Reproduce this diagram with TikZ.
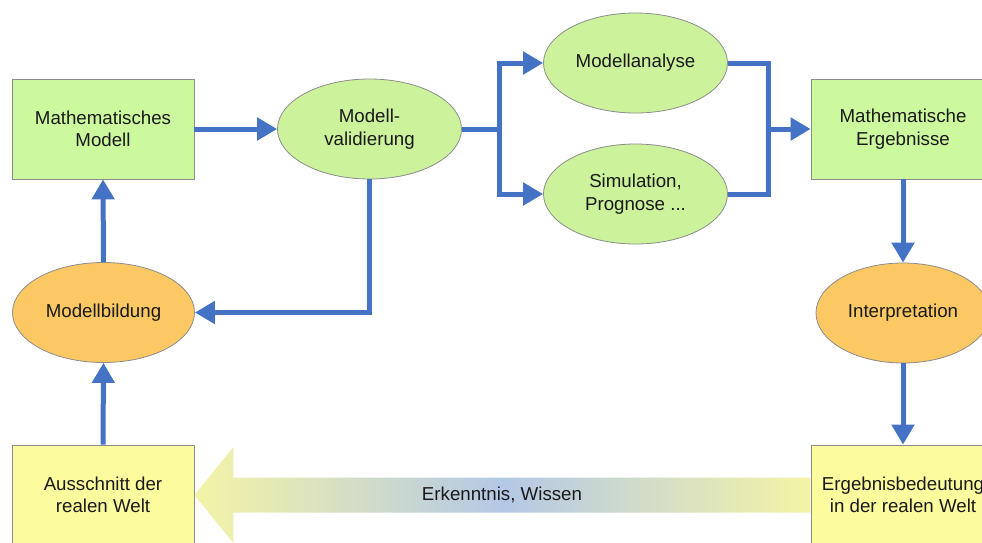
\documentclass[tikz,border=0pt]{standalone}
\usepackage{fontspec}
\setmainfont{Liberation Sans}
\usetikzlibrary{shapes.geometric,arrows.meta,backgrounds,calc}
\definecolor{gbox}{HTML}{CCF89E}
\definecolor{gell}{HTML}{CCF29C}
\definecolor{oell}{HTML}{FBC863}
\definecolor{ybox}{HTML}{FCFC9E}
\definecolor{bord}{HTML}{8C8C8C}
\definecolor{flow}{HTML}{4472C4}
\definecolor{arrY}{HTML}{F4F4A6}
\definecolor{arrB}{HTML}{B4C8E6}
\definecolor{txt}{HTML}{1A1A1A}
\tikzset{
  base/.style={draw=bord, line width=0.8pt, align=center, text=txt,
    font=\fontsize{18.7}{22.5}\selectfont, inner sep=0pt},
  gbx/.style={base, rectangle, fill=gbox, minimum width=182pt, minimum height=100pt},
  ybx/.style={base, rectangle, fill=ybox, minimum width=182pt, minimum height=100pt},
  gel/.style={base, ellipse, fill=gell, minimum width=184pt, minimum height=100pt},
  oel/.style={base, ellipse, fill=oell, minimum width=182pt, minimum height=100pt},
  arr/.style={draw=flow, line width=5pt, line join=miter,
    -{Triangle[length=20pt,width=22pt]}},
  ln/.style={draw=flow, line width=5pt, line join=miter},
}
\begin{document}
\begin{tikzpicture}[x=1pt,y=-1pt]
\useasboundingbox (0,0) rectangle (982,542);
\clip (0,0) rectangle (982,542);
\node[gbx] (mm) at (103,129) {Mathematisches\\Modell};
\node[gel] (mv) at (369.5,129) {Modell-\\validierung};
\node[gel] (ma) at (635.5,63) {Modellanalyse};
\node[gel] (sp) at (635.5,194) {Simulation,\\Prognose ...};
\node[gbx, minimum width=184pt] (me) at (903,129) {Mathematische\\Ergebnisse};
\node[oel] (mb) at (103.5,312.5) {Modellbildung};
\node[oel, minimum width=174pt] (ip) at (903,313) {Interpretation};
\node[ybx] (aw) at (103,495) {Ausschnitt der\\realen Welt};
\node[ybx, minimum width=184pt] (eb) at (903,495) {Ergebnisbedeutung\\in der realen Welt};
\node[base, draw=none] (ew) at (502,495) {Erkenntnis, Wissen};

\begin{scope}[on background layer]
  \shade[left color=arrY, right color=arrY, middle color=arrB]
    (aw.east) -- ($(aw.east)+(39,-48)$) -- ($(aw.east)+(39,-17.5)$)
    -- ($(eb.west)+(0,-17.5)$) -- ($(eb.west)+(0,17.5)$)
    -- ($(aw.east)+(39,17.5)$) -- ($(aw.east)+(39,48)$) -- cycle;
\end{scope}

\coordinate (split) at (499,129);
\coordinate (join) at (768,129);

\draw[arr] (mm.east) -- (mv.west);
\draw[ln] (mv.east) -- (split);
\draw[arr] (split) |- (ma.west);
\draw[arr] (split) |- (sp.west);
\draw[ln] (ma.east) -| (join);
\draw[ln] (sp.east) -| (join);
\draw[arr] (join) -- (me.west);
\draw[arr] (me.south) -- (ip.north);
\draw[arr] (ip.south) -- (eb.north);
\draw[arr] (aw.north) -- (mb.south);
\draw[arr] (mb.north) -- (mm.south);
\draw[arr] (mv.south) |- (mb.east);
\end{tikzpicture}
\end{document}
